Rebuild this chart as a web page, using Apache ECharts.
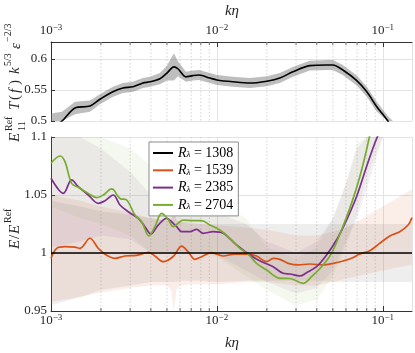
<!DOCTYPE html>
<html>
<head>
<meta charset="utf-8">
<script src="https://cdn.jsdelivr.net/npm/echarts@6/dist/echarts.min.js"></script>
<style>html,body{margin:0;padding:0;background:#fff}#c{width:415px;height:353px}</style>
</head>
<body>
<div id="c"></div>
<script>
// ---------- data ----------
// top panel: reference compensated spectrum
const topK = [1.0e-3, 1.165e-3, 1.395e-3, 1.718e-3, 1.973e-3, 2.363e-3, 2.716e-3, 3.119e-3, 3.583e-3, 3.948e-3, 4.536e-3, 4.998e-3, 5.508e-3, 5.821e-3, 6.505e-3, 7.166e-3, 7.792e-3, 9.075e-3, 1.0e-2, 1.249e-2, 1.58e-2, 2.0e-2, 2.396e-2, 2.87e-2, 3.63e-2, 4.6e-2, 5.0e-2, 5.74e-2, 6.97e-2, 8.01e-2, 9.2e-2, 0.1072, 0.115];
const topVal = [0.487, 0.5, 0.521, 0.524, 0.535, 0.547, 0.553, 0.555, 0.561, 0.563, 0.568, 0.577, 0.587, 0.584, 0.571, 0.573, 0.574, 0.569, 0.566, 0.563, 0.561, 0.564, 0.569, 0.579, 0.589, 0.590, 0.590, 0.582, 0.565, 0.547, 0.523, 0.5, 0.485];
const topHalf = [0.025, 0.015, 0.01, 0.009, 0.008, 0.008, 0.008, 0.008, 0.008, 0.008, 0.009, 0.012, 0.022, 0.012, 0.008, 0.008, 0.008, 0.008, 0.008, 0.008, 0.008, 0.008, 0.008, 0.008, 0.008, 0.008, 0.008, 0.008, 0.008, 0.008, 0.008, 0.008, 0.008];

// bottom panel: ratio curves
const names = ['1308', '1539', '2385', '2704'];
const k1308 = [1e-3, 0.15];
const v1308 = [1, 1];
const k1539 = [1.0e-3, 1.082e-3, 1.214e-3, 1.395e-3, 1.495e-3, 1.718e-3, 1.928e-3, 2.165e-3, 2.43e-3, 2.791e-3, 3.283e-3, 3.856e-3, 4.231e-3, 4.749e-3, 5.455e-3, 6.129e-3, 6.717e-3, 7.37e-3, 8.088e-3, 9.29e-3, 1.091e-2, 1.283e-2, 1.51e-2, 1.734e-2, 1.993e-2, 2.184e-2, 2.396e-2, 2.689e-2, 3.09e-2, 3.633e-2, 4.37e-2, 5.02e-2, 5.766e-2, 6.478e-2, 7.269e-2, 8.35e-2, 9.594e-2, 0.1102, 0.1266, 0.1421, 0.15];
const v1539 = [0.9954, 1.004, 1.0055, 1.005, 1.004, 1.0127, 1.004, 0.998, 0.9954, 0.9974, 0.998, 1.0006, 0.9974, 0.9925, 0.997, 1.006, 1.001, 0.9945, 0.9968, 1.0003, 0.9974, 0.9991, 0.9991, 0.9974, 0.9925, 0.9954, 0.9945, 0.9911, 0.9897, 0.9905, 0.9897, 0.9911, 0.9931, 0.9954, 0.9991, 1.002, 1.0084, 1.0147, 1.0184, 1.0241, 1.0305];
const k2385 = [1.0e-3, 1.106e-3, 1.186e-3, 1.332e-3, 1.46e-3, 1.678e-3, 1.928e-3, 2.115e-3, 2.373e-3, 2.604e-3, 2.922e-3, 3.357e-3, 3.683e-3, 4.004e-3, 4.43e-3, 4.977e-3, 5.455e-3, 5.72e-3, 6.129e-3, 6.877e-3, 7.545e-3, 8.271e-3, 9.5e-3, 1.091e-2, 1.314e-2, 1.58e-2, 1.859e-2, 2.184e-2, 2.508e-2, 2.754e-2, 3.162e-2, 3.47e-2, 3.987e-2, 4.58e-2, 5.261e-2, 6.044e-2, 6.944e-2, 7.977e-2, 8.95e-2, 9.594e-2];
const v2385 = [1.0644, 1.055, 1.0514, 1.063, 1.0572, 1.05, 1.0428, 1.045, 1.05, 1.0414, 1.0356, 1.0299, 1.0227, 1.0164, 1.0241, 1.0299, 1.0256, 1.0227, 1.0184, 1.0184, 1.0204, 1.017, 1.0184, 1.017, 1.0069, 0.9983, 0.9925, 0.9882, 0.9825, 0.9819, 0.9802, 0.983, 0.9882, 0.9983, 1.0112, 1.0284, 1.0485, 1.0744, 1.0946, 1.105];
const k2704 = [1.0e-3, 1.133e-3, 1.214e-3, 1.332e-3, 1.46e-3, 1.678e-3, 1.885e-3, 2.065e-3, 2.321e-3, 2.604e-3, 2.858e-3, 3.206e-3, 3.519e-3, 3.894e-3, 4.231e-3, 4.644e-3, 5.089e-3, 5.455e-3, 6.266e-3, 7.197e-3, 8.088e-3, 9.075e-3, 1.042e-2, 1.198e-2, 1.376e-2, 1.544e-2, 1.734e-2, 1.993e-2, 2.396e-2, 2.754e-2, 3.311e-2, 3.72e-2, 4.273e-2, 4.909e-2, 5.639e-2, 6.478e-2, 7.269e-2, 7.977e-2, 8.585e-2];
const v2704 = [1.0773, 1.0836, 1.0787, 1.06, 1.0566, 1.0514, 1.0477, 1.05, 1.0552, 1.047, 1.0457, 1.0328, 1.027, 1.0147, 1.0227, 1.0342, 1.029, 1.0227, 1.0284, 1.0279, 1.0279, 1.0241, 1.0198, 1.0127, 1.004, 0.9991, 0.9911, 0.9853, 0.9782, 0.978, 0.9739, 0.9796, 0.9882, 0.9997, 1.0198, 1.0428, 1.0658, 1.0888, 1.11];

// uncertainty bands (bottom panel)
const bandK = [1e-3, 1.5e-3, 2e-3, 3e-3, 4e-3, 5e-3, 5.3e-3, 5.5e-3, 5.7e-3, 6e-3, 7e-3, 8e-3, 1e-2, 1.5e-2, 2e-2, 3e-2, 4e-2, 5e-2, 6e-2, 7e-2, 8e-2, 1e-1, 1.5e-1];
const lo1308 = [0.955, 0.962, 0.968, 0.972, 0.975, 0.975, 0.975, 0.975, 0.975, 0.976, 0.976, 0.976, 0.975, 0.976, 0.976, 0.976, 0.976, 0.975, 0.975, 0.975, 0.975, 0.975, 0.975];
const hi1308 = [1.045, 1.040, 1.036, 1.033, 1.030, 1.028, 1.028, 1.035, 1.028, 1.027, 1.026, 1.025, 1.025, 1.025, 1.025, 1.025, 1.025, 1.025, 1.025, 1.025, 1.025, 1.025, 1.025];
const lo1539 = [0.958, 0.962, 0.966, 0.97, 0.972, 0.972, 0.968, 0.95, 0.968, 0.972, 0.973, 0.973, 0.973, 0.975, 0.975, 0.972, 0.972, 0.975, 0.978, 0.98, 0.982, 0.985, 0.99];
const hi1539 = [1.05, 1.045, 1.04, 1.035, 1.03, 1.028, 1.03, 1.04, 1.03, 1.027, 1.025, 1.025, 1.024, 1.022, 1.02, 1.015, 1.015, 1.018, 1.022, 1.027, 1.032, 1.04, 1.055];
const lo2385 = [1.005, 1.01, 1.015, 1.012, 1.0, 1.0, 1.0, 1.0, 1.0, 1.0, 1.0, 1.0, 0.998, 0.985, 0.975, 0.965, 0.97, 0.985, 1.01, 1.03, 1.055, 1.1, 1.1];
const hi2385 = [1.1, 1.1, 1.09, 1.07, 1.05, 1.045, 1.045, 1.045, 1.045, 1.04, 1.038, 1.036, 1.035, 1.025, 1.01, 1.0, 1.01, 1.03, 1.06, 1.09, 1.1, 1.1, 1.1];
const lo2704 = [1.04, 1.03, 1.025, 1.015, 1.0, 1.0, 1.0, 1.0, 1.0, 1.0, 1.0, 1.0, 0.997, 0.98, 0.968, 0.955, 0.96, 0.98, 1.005, 1.035, 1.065, 1.1, 1.1];
const hi2704 = [1.1, 1.1, 1.1, 1.09, 1.075, 1.065, 1.065, 1.065, 1.06, 1.055, 1.05, 1.048, 1.045, 1.03, 1.005, 0.995, 1.005, 1.03, 1.06, 1.095, 1.1, 1.1, 1.1];

// axis ticks
const minorTicks = [2e-3, 3e-3, 4e-3, 5e-3, 6e-3, 7e-3, 8e-3, 9e-3, 2e-2, 3e-2, 4e-2, 5e-2, 6e-2, 7e-2, 8e-2, 9e-2];
const xMin = 1e-3, xMax = 0.15;
const topYMin = 0.5, topYMax = 0.627, topYStep = 0.05;
const botYMin = 0.95, botYMax = 1.1, botYStep = 0.05;

// ---------- styling ----------
const SERIF = "'Liberation Serif', 'DejaVu Serif', serif";
const colors = ['#000000', '#D95319', '#7E2F8E', '#77AC30'];
const bandColors = ['rgba(120,120,120,0.13)', 'rgba(217,83,25,0.10)', 'rgba(126,47,142,0.08)', 'rgba(119,172,48,0.08)'];

const chart = echarts.init(document.getElementById('c'), null, {renderer: 'canvas'});

function xLabelFmt(v) {
  const e = Math.log10(v);
  const r = Math.round(e);
  if (Math.abs(e - r) > 1e-6) return '';
  return '{n|10}{s|' + String(r).replace('-', '\u2212') + '}';
}
const xRich = {
  n: {fontFamily: SERIF, fontSize: 13, color: '#262626', lineHeight: 16},
  s: {fontFamily: SERIF, fontSize: 9, color: '#262626', lineHeight: 9, verticalAlign: 'top'}
};
function yFmt(step) {
  return function (v) {
    const q = v / step;
    if (Math.abs(q - Math.round(q)) > 1e-6) return '';
    return String(+v.toFixed(3));
  };
}

function bandRender(K, LO, HI) {
  return function (params, api) {
    if (params.dataIndex !== 0) return null;
    const cs = params.coordSys;
    const pts = [];
    for (let i = 0; i < K.length; i++) pts.push(api.coord([K[i], HI[i]]));
    for (let i = K.length - 1; i >= 0; i--) pts.push(api.coord([K[i], LO[i]]));
    const clipped = echarts.graphic.clipPointsByRect(pts, {x: cs.x, y: cs.y, width: cs.width, height: cs.height});
    return {type: 'polygon', shape: {points: clipped}, style: {fill: api.visual('color')}};
  };
}
function minorRender(atTop) {
  return function (params, api) {
    const cs = params.coordSys;
    const px = api.coord([api.value(0), api.value(1)])[0];
    const ty0 = atTop ? cs.y : cs.y + cs.height;
    const ty1 = atTop ? cs.y + 3 : cs.y + cs.height - 3;
    return {
      type: 'group',
      children: [
        {type: 'line', shape: {x1: px, y1: cs.y, x2: px, y2: cs.y + cs.height},
         style: {stroke: '#d4d4d4', lineWidth: 1, lineDash: [1.5, 2]}},
        {type: 'line', shape: {x1: px, y1: ty0, x2: px, y2: ty1},
         style: {stroke: '#444', lineWidth: 0.8}}
      ]
    };
  };
}

const topBandLo = topVal.map((v, i) => v - topHalf[i]);
const topBandHi = topVal.map((v, i) => v + topHalf[i]);
const lineK = [k1308, k1539, k2385, k2704];
const lineV = [v1308, v1539, v2385, v2704];
const bandLo = [lo1308, lo1539, lo2385, lo2704];
const bandHi = [hi1308, hi1539, hi2385, hi2704];

const series = [];
series.push({
  type: 'custom', name: 'minorTop', xAxisIndex: 0, yAxisIndex: 0, z: 1, silent: true,
  renderItem: minorRender(true), data: minorTicks.map(k => [k, topYMin])
});
series.push({
  type: 'custom', name: 'minorBot', xAxisIndex: 1, yAxisIndex: 1, z: 1, silent: true,
  renderItem: minorRender(false), data: minorTicks.map(k => [k, botYMin])
});
series.push({
  type: 'custom', name: 'topBand', xAxisIndex: 0, yAxisIndex: 0, z: 2, silent: true,
  itemStyle: {color: 'rgba(110,110,110,0.45)'},
  renderItem: bandRender(topK, topBandLo, topBandHi), data: [[topK[0], topVal[0]]]
});
series.push({
  type: 'line', name: 'topRef', xAxisIndex: 0, yAxisIndex: 0, z: 4,
  data: topK.map((k, i) => [k, topVal[i]]),
  symbol: 'none', smooth: 0.3, clip: true,
  lineStyle: {color: '#000', width: 1.6}
});
for (let s = 0; s < 4; s++) {
  series.push({
    type: 'custom', name: 'band' + names[s], xAxisIndex: 1, yAxisIndex: 1, z: 2, silent: true,
    itemStyle: {color: bandColors[s]},
    renderItem: bandRender(bandK, bandLo[s], bandHi[s]), data: [[bandK[0], 1]]
  });
}
const lineOrder = [1, 2, 3, 0];
for (const s of lineOrder) {
  series.push({
    type: 'line', name: names[s], xAxisIndex: 1, yAxisIndex: 1, z: 5,
    data: lineK[s].map((k, i) => [k, lineV[s][i]]),
    symbol: 'none', smooth: s === 0 ? false : 0.35, clip: true,
    color: colors[s],
    lineStyle: {color: colors[s], width: s === 0 ? 1.5 : 1.7}
  });
}

const axisLineStyle = {color: '#333', width: 1};

const option = {
  animation: false,
  backgroundColor: '#fff',
  grid: [
    {left: 51, right: 3, top: 42, height: 79},
    {left: 51, right: 3, top: 137, height: 174}
  ],
  xAxis: [
    {
      type: 'log', logBase: 10, gridIndex: 0, position: 'top', min: xMin, max: xMax,
      axisLine: {show: true, lineStyle: axisLineStyle},
      axisTick: {show: true, inside: true, length: 5, lineStyle: {color: '#333'}},
      axisLabel: {formatter: xLabelFmt, rich: xRich, margin: 3, showMaxLabel: false},
      splitLine: {show: true, lineStyle: {color: '#e3e3e3', width: 1}},
      minorTick: {show: false}
    },
    {
      type: 'log', logBase: 10, gridIndex: 1, position: 'bottom', min: xMin, max: xMax,
      axisLine: {show: true, lineStyle: axisLineStyle},
      axisTick: {show: true, inside: true, length: 5, lineStyle: {color: '#333'}},
      axisLabel: {formatter: xLabelFmt, rich: xRich, margin: 2, showMaxLabel: false},
      splitLine: {show: true, lineStyle: {color: '#e3e3e3', width: 1}},
      minorTick: {show: false}
    }
  ],
  yAxis: [
    {
      type: 'value', gridIndex: 0, min: topYMin, max: topYMax, interval: topYStep,
      axisLine: {show: true, lineStyle: axisLineStyle},
      axisTick: {show: true, inside: true, length: 4, lineStyle: {color: '#333'}},
      axisLabel: {formatter: yFmt(topYStep), fontFamily: SERIF, fontSize: 13, color: '#262626', margin: 4},
      splitLine: {show: true, lineStyle: {color: '#e3e3e3', width: 1}}
    },
    {
      type: 'value', gridIndex: 1, min: botYMin, max: botYMax, interval: botYStep,
      axisLine: {show: true, lineStyle: axisLineStyle},
      axisTick: {show: true, inside: true, length: 4, lineStyle: {color: '#333'}},
      axisLabel: {formatter: yFmt(botYStep), fontFamily: SERIF, fontSize: 13, color: '#262626', margin: 4},
      splitLine: {show: true, lineStyle: {color: '#e3e3e3', width: 1}}
    }
  ],
  legend: {
    data: names, orient: 'vertical', left: 149, top: 142,
    icon: 'rect', itemWidth: 20, itemHeight: 2, itemGap: 3.3,
    padding: [4, 5, 4, 4], backgroundColor: '#fff', borderColor: '#8c8c8c', borderWidth: 1,
    formatter: n => '{r|R}{l|\u03bb}{t| = ' + n + '}',
    textStyle: {
      rich: {
        r: {fontFamily: SERIF, fontStyle: 'italic', fontSize: 14, color: '#000', lineHeight: 13},
        l: {fontFamily: SERIF, fontStyle: 'italic', fontSize: 9, color: '#000', lineHeight: 13, verticalAlign: 'bottom'},
        t: {fontFamily: SERIF, fontSize: 14, color: '#000', lineHeight: 13}
      }
    }
  },
  graphic: [
    {type: 'text', x: 232, y: 11, style: {text: 'k\u03b7', font: 'italic 15px ' + SERIF, fill: '#262626', textAlign: 'center', textVerticalAlign: 'middle'}},
    {type: 'text', x: 232, y: 343, style: {text: 'k\u03b7', font: 'italic 15px ' + SERIF, fill: '#262626', textAlign: 'center', textVerticalAlign: 'middle'}},
    {
      type: 'group', x: 21, y: 142, rotation: Math.PI / 2,
      children: [
        {type: 'text', x: 0, y: -6, style: {text: 'E', font: 'italic 15px ' + SERIF, fill: '#262626', textVerticalAlign: 'middle'}},
        {type: 'text', x: 11, y: -12, style: {text: 'Ref', font: '10px ' + SERIF, fill: '#262626', textVerticalAlign: 'middle'}},
        {type: 'text', x: 11, y: 1, style: {text: '11', font: '10px ' + SERIF, fill: '#262626', textVerticalAlign: 'middle'}},
        {type: 'text', x: 32, y: -6, style: {text: 'T', font: 'italic 15px ' + SERIF, fill: '#262626', textVerticalAlign: 'middle'}},
        {type: 'text', x: 42, y: -6, style: {text: '(', font: '15px ' + SERIF, fill: '#262626', textVerticalAlign: 'middle'}},
        {type: 'text', x: 49, y: -6, style: {text: 'f', font: 'italic 15px ' + SERIF, fill: '#262626', textVerticalAlign: 'middle'}},
        {type: 'text', x: 57, y: -6, style: {text: ')', font: '15px ' + SERIF, fill: '#262626', textVerticalAlign: 'middle'}},
        {type: 'text', x: 68, y: -6, style: {text: 'k', font: 'italic 15px ' + SERIF, fill: '#262626', textVerticalAlign: 'middle'}},
        {type: 'text', x: 76, y: -13, style: {text: '5/3', font: '10px ' + SERIF, fill: '#262626', textVerticalAlign: 'middle'}},
        {type: 'text', x: 93, y: -5, style: {text: '\u03b5', font: 'italic 15px ' + SERIF, fill: '#262626', textVerticalAlign: 'middle'}},
        {type: 'text', x: 100, y: -13, style: {text: '\u22122/3', font: '10px ' + SERIF, fill: '#262626', textVerticalAlign: 'middle'}}
      ]
    },
    {
      type: 'group', x: 21, y: 249, rotation: Math.PI / 2,
      children: [
        {type: 'text', x: 0, y: -6, style: {text: 'E', font: 'italic 15px ' + SERIF, fill: '#262626', textVerticalAlign: 'middle'}},
        {type: 'text', x: 10, y: -6, style: {text: '/', font: '15px ' + SERIF, fill: '#262626', textVerticalAlign: 'middle'}},
        {type: 'text', x: 15, y: -6, style: {text: 'E', font: 'italic 15px ' + SERIF, fill: '#262626', textVerticalAlign: 'middle'}},
        {type: 'text', x: 26, y: -13, style: {text: 'Ref', font: '10px ' + SERIF, fill: '#262626', textVerticalAlign: 'middle'}}
      ]
    }
  ],
  series: series
};
chart.setOption(option);
</script>
</body>
</html>
